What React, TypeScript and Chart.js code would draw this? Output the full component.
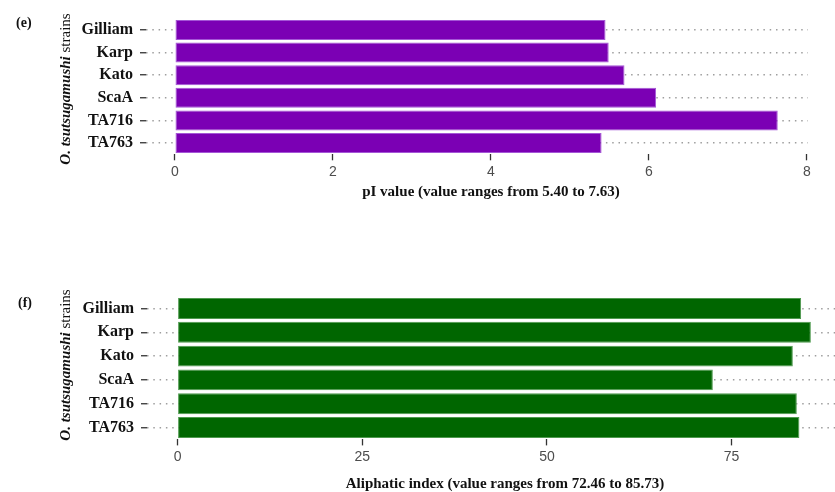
import React, { useEffect, useRef } from "react";
import { Chart, registerables } from "chart.js";

Chart.register(...registerables);

const strains = ["Gilliam", "Karp", "Kato", "ScaA", "TA716", "TA763"];
const piValues = [5.45, 5.49, 5.69, 6.09, 7.63, 5.4];
const aliphaticValues = [84.41, 85.73, 83.29, 72.46, 83.83, 84.18];
const piTicks = [0, 2, 4, 6, 8];
const aliphaticTicks = [0, 25, 50, 75];

const SERIF = "'Liberation Serif', 'Times New Roman', serif";
const SANS = "'Liberation Sans Narrow', 'Liberation Sans', Arial, sans-serif";

type PanelProps = {
  values: number[];
  ticks: number[];
  min: number;
  max: number;
  color: string;
  edge: string;
  height: number;
  top: number;
  bottom: number;
  left: number;
  right: number;
  barPct: number;
};

function Panel(p: PanelProps) {
  const ref = useRef<HTMLCanvasElement>(null);
  useEffect(() => {
    if (!ref.current) return;
    const chart = new Chart(ref.current, {
      type: "bar",
      data: {
        labels: strains,
        datasets: [
          {
            data: p.values,
            backgroundColor: p.color,
            borderColor: p.edge,
            borderWidth: 1,
            borderSkipped: false,
            barPercentage: p.barPct,
            categoryPercentage: 1,
          },
        ],
      },
      options: {
        indexAxis: "y",
        animation: false,
        responsive: false,
        layout: { padding: { top: p.top, right: 835 - p.right, left: 0, bottom: 0 } },
        plugins: { legend: { display: false }, tooltip: { enabled: false } },
        scales: {
          x: {
            type: "linear",
            min: p.min,
            max: p.max,
            afterBuildTicks: (scale: any) => {
              scale.ticks = p.ticks.map((v) => ({ value: v }));
            },
            afterFit: (scale: any) => {
              scale.height = p.height - p.bottom;
            },
            grid: {
              display: true,
              drawOnChartArea: false,
              drawTicks: true,
              tickLength: 6,
              tickColor: "#333",
              tickWidth: 1.3,
            },
            border: { display: false },
            ticks: {
              color: "#4d4d4d",
              font: { family: SANS, size: 14 },
              padding: 3,
              callback: (v: any) => String(v),
            },
          },
          y: {
            type: "category",
            afterFit: (scale: any) => {
              scale.width = p.left;
            },
            grid: {
              display: true,
              offset: false,
              drawOnChartArea: true,
              drawTicks: true,
              tickLength: 6,
              color: "#9e9e9e",
              lineWidth: 1.5,
              tickColor: "#333",
              tickWidth: 1.3,
              tickBorderDash: [],
            },
            border: { display: false, dash: [1.5, 4.8] },
            ticks: {
              color: "#111",
              font: { family: SERIF, size: 16, weight: "bold" },
              padding: 7,
            },
          },
        },
      },
    });
    return () => chart.destroy();
  }, []);
  return <canvas ref={ref} width={835} height={p.height} style={{ display: "block" }} />;
}

const abs = (s: React.CSSProperties): React.CSSProperties => ({ position: "absolute", ...s });

function YTitle({ cx, cy }: { cx: number; cy: number }) {
  return (
    <div
      style={abs({
        left: cx - 100,
        top: cy - 10,
        width: 200,
        height: 20,
        lineHeight: "20px",
        textAlign: "center",
        transform: "rotate(-90deg)",
        fontFamily: SERIF,
        fontSize: 15,
        color: "#111",
        whiteSpace: "nowrap",
      })}
    >
      <span style={{ fontStyle: "italic", fontWeight: "bold" }}>O. tsutsugamushi</span> strains
    </div>
  );
}

function XTitle({ cx, cy, text }: { cx: number; cy: number; text: string }) {
  return (
    <div
      style={abs({
        left: cx - 300,
        top: cy - 10,
        width: 600,
        height: 20,
        lineHeight: "20px",
        textAlign: "center",
        fontFamily: SERIF,
        fontWeight: "bold",
        fontSize: 15,
        color: "#111",
        whiteSpace: "nowrap",
      })}
    >
      {text}
    </div>
  );
}

function Tag({ x, cy, text }: { x: number; cy: number; text: string }) {
  return (
    <div
      style={abs({
        left: x,
        top: cy - 10,
        height: 20,
        lineHeight: "20px",
        fontFamily: SERIF,
        fontWeight: "bold",
        fontSize: 14,
        color: "#111",
      })}
    >
      {text}
    </div>
  );
}

export default function App() {
  return (
    <div style={abs({ left: 0, top: 0, width: 835, height: 492, background: "#fff", overflow: "hidden" })}>
      <div style={abs({ left: 0, top: 0 })}>
        <Panel
          values={piValues}
          ticks={piTicks}
          min={-0.367}
          max={8.013}
          color="#7b00b4"
          edge="#a456d6"
          height={246}
          top={18.7}
          bottom={154.3}
          left={146}
          right={808}
          barPct={0.885}
        />
      </div>
      <div style={abs({ left: 0, top: 246 })}>
        <Panel
          values={aliphaticValues}
          ticks={aliphaticTicks}
          min={-4.14}
          max={89.0}
          color="#006600"
          edge="#4f9a4f"
          height={246}
          top={50.6}
          bottom={193.4}
          left={147}
          right={835}
          barPct={0.88}
        />
      </div>
      <Tag x={16} cy={23} text="(e)" />
      <Tag x={18} cy={303} text="(f)" />
      <YTitle cx={65} cy={89} />
      <YTitle cx={65} cy={365} />
      <XTitle cx={491} cy={191} text="pI value (value ranges from 5.40 to 7.63)" />
      <XTitle cx={505} cy={483} text="Aliphatic index (value ranges from 72.46 to 85.73)" />
    </div>
  );
}
